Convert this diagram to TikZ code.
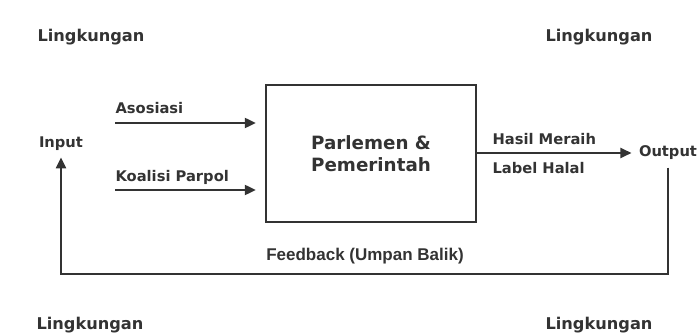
\documentclass[tikz,border=0pt]{standalone}
\usepackage{fontspec}
\setmainfont{Liberation Sans}
\newfontfamily\labelfont{DejaVu Sans}
\usetikzlibrary{arrows.meta, positioning}
\definecolor{inkdark}{HTML}{333333}

\begin{document}
\begin{tikzpicture}[x=1pt, y=-1pt, text=inkdark,
  font=\labelfont\bfseries\fontsize{14.7}{17}\selectfont,
  flow/.style={-{Triangle[length=11pt, width=10pt]}, draw=inkdark, line width=2.2pt},
  envlabel/.style={font=\labelfont\bfseries\fontsize{16.2}{19}\selectfont},
  lbl/.style={anchor=west}]

\useasboundingbox (0,0) rectangle (698,336);

% ---- environment corners ----------------------------------------------
\node[envlabel] (envTL) at (91,37)  {Lingkungan};
\node[envlabel] (envTR) at (599,37) {Lingkungan};
\node[envlabel] (envBL) at (90,325) {Lingkungan};
\node[envlabel] (envBR) at (599,325) {Lingkungan};

% ---- system box --------------------------------------------------------
\node[draw=inkdark, line width=2.4pt, minimum width=210pt, minimum height=137pt,
  align=center, font=\labelfont\bfseries\fontsize{18.3}{22}\selectfont] (sys) at (371,153.5)
  {Parlemen \&\\Pemerintah};

% ---- inputs -----------------------------------------------------------
\node (input) at (61,144) {Input};
\coordinate (asoStart) at (115,123);
\coordinate (koaStart) at (115,190);
\node[lbl] (aso) at (112,108) {Asosiasi};
\node[lbl] (koa) at (112,177) {Koalisi Parpol};
\draw[flow, shorten >=9pt] (asoStart) -- (sys.west |- asoStart);
\draw[flow, shorten >=9pt] (koaStart) -- (sys.west |- koaStart);

% ---- output -----------------------------------------------------------
\node (output) at (668,153) {Output};
\node[lbl] (hasil) at (489,139) {Hasil Meraih};
\node[lbl] (halal) at (489,168) {Label Halal};
\draw[flow, shorten >=4pt] (sys.east |- output) -- (output.west);

% ---- feedback loop ----------------------------------------------------
\coordinate (fbY) at (0,274);
\draw[flow, shorten <=4pt, shorten >=3pt]
  (output.south) |- (fbY -| sys.center) -| (input.south);
\node[font=\bfseries\fontsize{17}{19}\selectfont] (fb) at (365,256) {Feedback (Umpan Balik)};
\end{tikzpicture}
\end{document}
